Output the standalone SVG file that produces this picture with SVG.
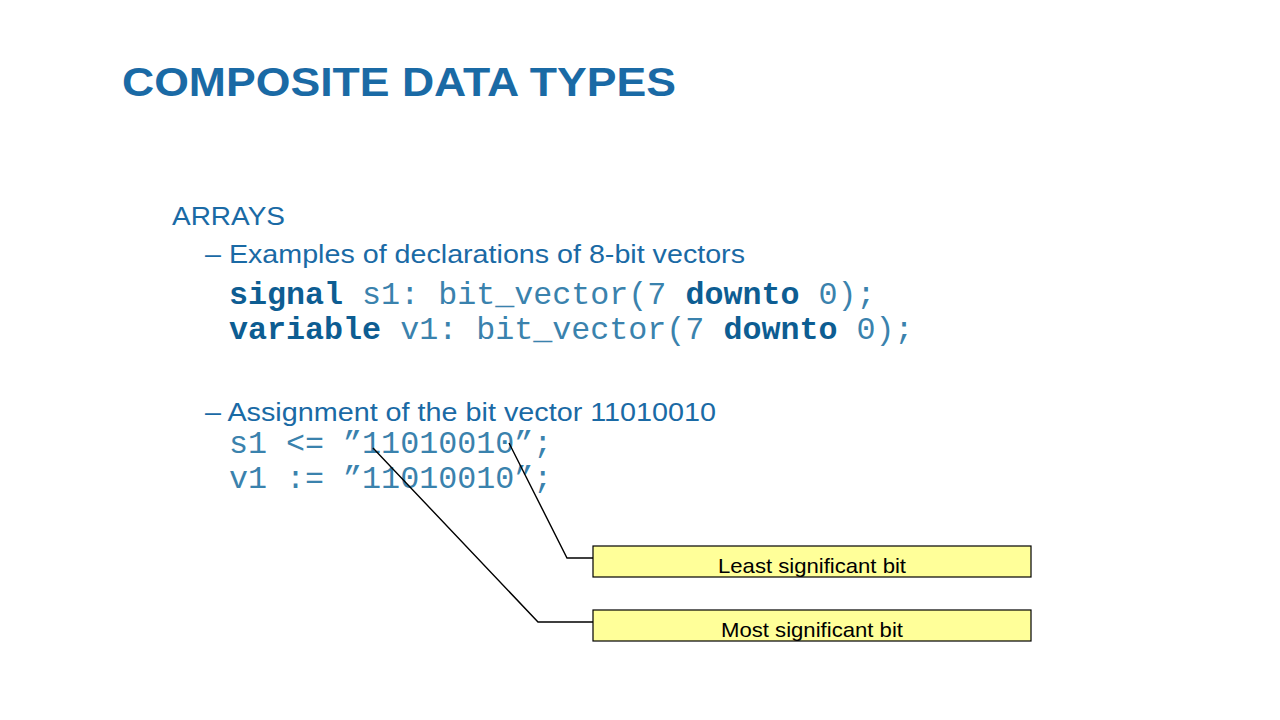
<svg xmlns="http://www.w3.org/2000/svg" width="1280" height="720" viewBox="0 0 1280 720">
<style>
.t{font-family:"Liberation Sans",Arial,sans-serif;fill:#1a6aa5}
.c{font-family:"Liberation Mono","Courier New",monospace;font-size:31.7px;fill:#3a82ad}
.b{font-weight:bold;fill:#0d5d92}
.box{fill:#ffff99;stroke:#000;stroke-width:1.2}
.lbl{font-family:"Liberation Sans",Arial,sans-serif;font-size:21px;fill:#000;text-anchor:middle}
.ln{fill:none;stroke:#000;stroke-width:1.4}
</style>
<rect width="1280" height="720" fill="#fff"/>
<text class="t" x="122" y="96" font-size="40" font-weight="bold" fill="#0a63a8" textLength="554" lengthAdjust="spacingAndGlyphs">COMPOSITE DATA TYPES</text>
<text class="t" x="172" y="225" font-size="25" textLength="113" lengthAdjust="spacingAndGlyphs">ARRAYS</text>
<text class="t" x="205" y="263" font-size="25" textLength="540" lengthAdjust="spacingAndGlyphs">– Examples of declarations of 8-bit vectors</text>
<text class="c" x="229" y="304"><tspan class="b">signal</tspan> s1: bit_vector(7 <tspan class="b">downto</tspan> 0);</text>
<text class="c" x="229" y="339"><tspan class="b">variable</tspan> v1: bit_vector(7 <tspan class="b">downto</tspan> 0);</text>
<text class="t" x="205" y="421" font-size="25" textLength="511" lengthAdjust="spacingAndGlyphs">– Assignment of the bit vector 11010010</text>
<text class="c" x="229" y="453">s1 &lt;= ”11010010”;</text>
<text class="c" x="229" y="488">v1 := ”11010010”;</text>
<g id="connectors">
<polyline class="ln" points="509,443 567,558 593,558"/>
<polyline class="ln" points="373,448 538,622 593,622"/>
</g>
<g id="lsb"><rect class="box" x="593" y="546" width="438" height="31"/><text class="lbl" x="812" y="573" textLength="188" lengthAdjust="spacingAndGlyphs">Least significant bit</text></g>
<g id="msb"><rect class="box" x="593" y="610" width="438" height="31"/><text class="lbl" x="812" y="637" textLength="182" lengthAdjust="spacingAndGlyphs">Most significant bit</text></g>
</svg>
